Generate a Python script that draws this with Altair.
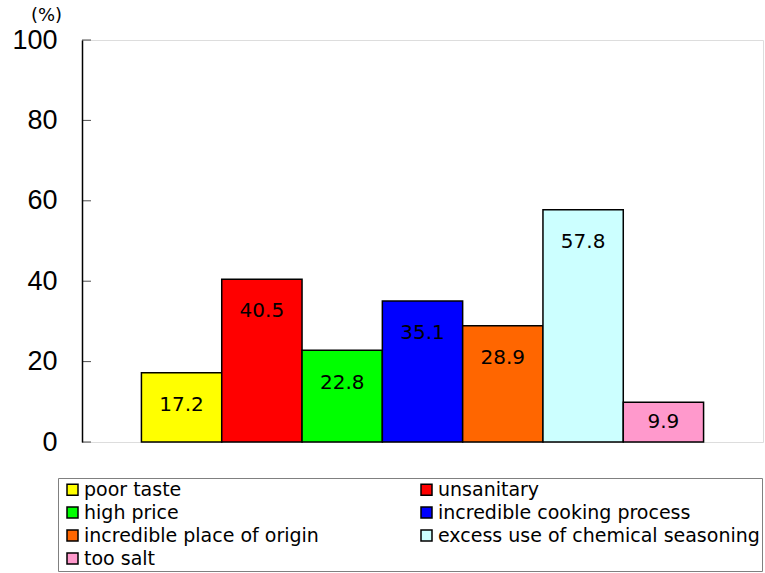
import altair as alt
import pandas as pd

categories = ["poor taste", "unsanitary", "high price", "incredible cooking process",
              "incredible place of origin", "excess use of chemical seasoning", "too salt"]
values = [17.2, 40.5, 22.8, 35.1, 28.9, 57.8, 9.9]
colors = ["#FFFF00", "#FF0000", "#00FF00", "#0000FF", "#FF6600", "#CCFFFF", "#FF99CC"]
y_ticks = [0, 20, 40, 60, 80, 100]

df = pd.DataFrame({"cat": categories, "val": values, "lbl": [f"{v:.1f}" for v in values]})
ticks_df = pd.DataFrame({"t": y_ticks})

x_enc = alt.X("cat:N", sort=categories, axis=None,
              scale=alt.Scale(paddingInner=0, paddingOuter=0.74))
y_scale = alt.Scale(domain=[0, 100], nice=False, zero=True)

bars = alt.Chart(df).mark_bar(stroke="black", strokeWidth=1.5).encode(
    x=x_enc,
    y=alt.Y("val:Q", scale=y_scale,
            axis=alt.Axis(values=y_ticks, ticks=False, labelPadding=25,
                          labelFont="Liberation Sans", labelFontSize=27, labelColor="black",
                          domainColor="black", domainWidth=1.5, grid=False,
                          title="(%)", titleAngle=0, titleX=-36, titleY=-25,
                          titleAlign="center", titleBaseline="middle",
                          titleFont="DejaVu Sans", titleFontSize=18, titleFontWeight="normal",
                          titleColor="black")),
    color=alt.Color("cat:N", sort=categories,
                    scale=alt.Scale(domain=categories, range=colors),
                    legend=alt.Legend(title=None, orient="none", legendX=-24, legendY=438,
                                      direction="horizontal",
                                      columns=2, columnPadding=95, rowPadding=3,
                                      symbolType="square", symbolSize=121,
                                      symbolStrokeColor="black", symbolStrokeWidth=1.5,
                                      symbolOffset=3, labelOffset=2,
                                      labelFont="DejaVu Sans", labelFontSize=19,
                                      labelColor="black", labelLimit=400,
                                      strokeColor="#808080", fillColor="white", padding=2)),
)

labels = alt.Chart(df).transform_calculate(
    ly="max(datum.val - 8, datum.val / 2)"
).mark_text(font="DejaVu Sans", fontSize=20, color="black", baseline="middle").encode(
    x=x_enc,
    y=alt.Y("ly:Q", scale=y_scale),
    text="lbl:N",
)

ticks = alt.Chart(ticks_df).mark_tick(orient="horizontal", color="black", thickness=1, size=9).encode(
    y=alt.Y("t:Q", scale=y_scale),
    x=alt.value(4.5),
)

chart = alt.layer(bars, labels, ticks).properties(
    width=681, height=402,
    autosize=alt.AutoSizeParams(type="none"),
    padding={"left": 82, "top": 40, "right": 2, "bottom": 131},
).configure_view(stroke="#808080", strokeWidth=1.5).configure(background="white")

chart.save("out.html", embed_options={"renderer": "svg", "actions": False})
